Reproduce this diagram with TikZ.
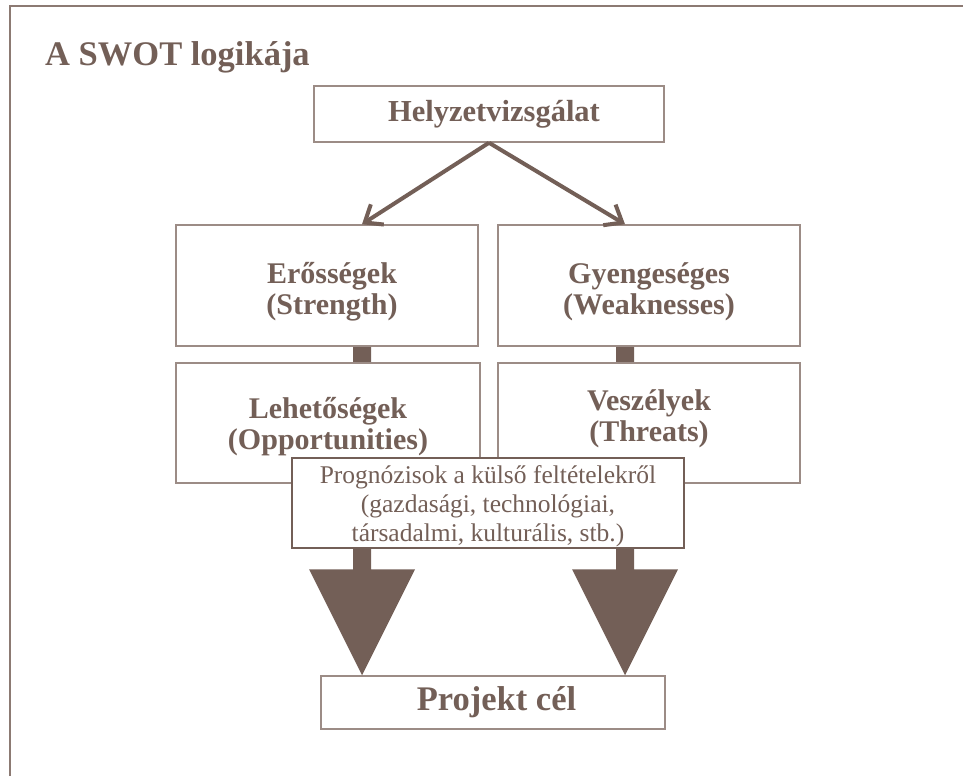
\documentclass[tikz,border=0pt]{standalone}
\usepackage{fontspec}
\setmainfont{Liberation Serif}
\usetikzlibrary{arrows.meta,calc}

\definecolor{brn}{HTML}{735F57}
\definecolor{boxline}{HTML}{9C8C86}
\definecolor{framec}{HTML}{8C7A73}

\tikzset{
  box/.style={draw=boxline, line width=1.5pt, fill=white, inner sep=0pt,
    align=center, text=brn, font=\bfseries\fontsize{30}{31}\selectfont},
  notebox/.style={draw=brn, line width=2pt, fill=white, inner sep=0pt,
    align=center, text=brn, font=\fontsize{25.5}{29}\selectfont},
  split/.style={draw=brn, line width=4pt,
    -{Straight Barb[length=15pt,width=24pt,line width=4pt]}},
  bigarrow/.style={fill=brn, draw=none}
}

\begin{document}
\begin{tikzpicture}[x=1pt, y=-1pt]
\useasboundingbox (0,0) rectangle (963,776);

% outer frame
\draw[framec, line width=1.8pt] (10,776) -- (10,6) -- (963,6);

% title
\node[anchor=base west, inner sep=0pt, text=brn,
  font=\bfseries\fontsize{34.5}{38}\selectfont] (title) at (45,66) {A SWOT logikája};

% column axes of the two flows
\coordinate (colL) at (362,0);
\coordinate (colR) at (625,0);

% boxes (positions only)
\node[box, minimum width=350pt, minimum height=56pt, font=\bfseries\fontsize{30.5}{32}\selectfont]
  (hel) at (489,114) {\hspace*{10pt}Helyzetvizsgálat};
\node[box, minimum width=344pt, minimum height=53pt, font=\bfseries\fontsize{34.5}{36}\selectfont]
  (proj) at (493,702.5) {\hspace*{7pt}Projekt cél};

% wide arrows running down each column, behind the boxes
\foreach \c in {colL, colR}{
  \path (\c |- 0,346) coordinate (a1) (\c |- proj.north) coordinate (a2);
  \fill[bigarrow] ($(a1)+(-9,0)$) -- ($(a1)+(9,0)$) -- ($(a2)+(9,-106)$)
    -- ($(a2)+(53,-106)$) -- (a2) -- ($(a2)+(-53,-106)$)
    -- ($(a2)+(-9,-106)$) -- cycle;
}

\node[box, minimum width=302pt, minimum height=121pt, text height=58pt, text depth=0pt]
  (ero) at (327,285.5) {\hspace*{10pt}Erősségek\\\hspace*{10pt}(Strength)};
\node[box, minimum width=302pt, minimum height=121pt, text height=58pt, text depth=0pt]
  (gyen) at (649,285.5) {Gyengeséges\\(Weaknesses)};
\node[box, minimum width=304pt, minimum height=120pt, text height=53pt, text depth=0pt]
  (leh) at (328,423) {Lehetőségek\\(Opportunities)};
\node[box, minimum width=302pt, minimum height=120pt, text height=37pt, text depth=0pt]
  (vesz) at (649,423) {Veszélyek\\(Threats)};

\node[notebox, minimum width=392pt, minimum height=90pt, text height=76pt, text depth=0pt]
  (prog) at (488,503)
  {Prognózisok a külső feltételekről\\(gazdasági, technológiai,\\társadalmi, kulturális, stb.)};

% situation analysis splits into the two columns
\coordinate (tipL) at (colL |- ero.north);
\coordinate (tipR) at (colR |- gyen.north);
\draw[split] (hel.south) -- (tipL);
\draw[split] (hel.south) -- (tipR);
\end{tikzpicture}
\end{document}
